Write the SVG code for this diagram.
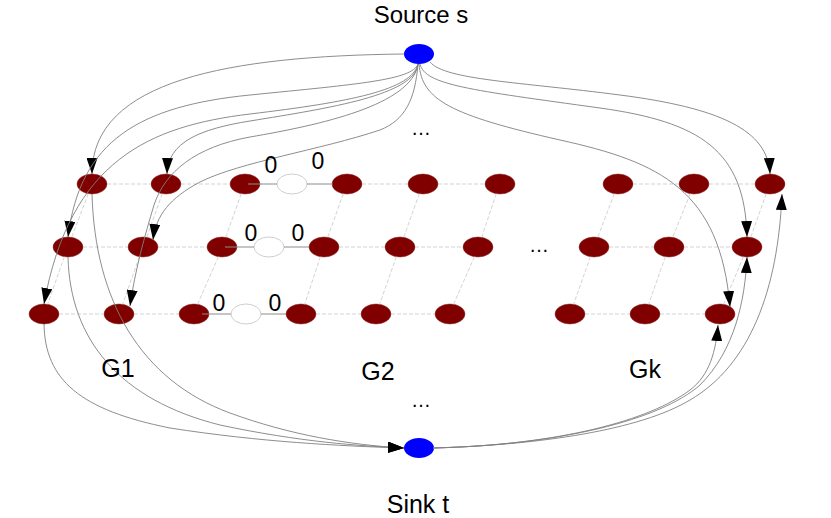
<svg xmlns="http://www.w3.org/2000/svg" width="831" height="518" viewBox="0 0 831 518">
<style>
.t{font-family:"Liberation Sans",Arial,sans-serif;fill:#000}
.lbl{font-size:25px;text-anchor:middle}
.top{font-size:24px;text-anchor:middle}
.z{font-size:23px;text-anchor:middle}
.dots{font-size:20px;text-anchor:middle}
.n{fill:#800000;stroke:#8a2a2a;stroke-width:0.5}
.w{fill:#fff;stroke:#cfcfcf;stroke-width:1}
.st{fill:#0000ff}
.d{stroke:#c8c8c8;stroke-width:0.8;stroke-dasharray:4,2;fill:none}
.s{stroke:#8c8c8c;stroke-width:1;fill:none}
.c{stroke:#808080;stroke-width:0.9;fill:none;marker-end:url(#arr)}
</style>
<defs>
<marker id="arr" markerWidth="16" markerHeight="11" refX="16" refY="5.5" orient="auto" markerUnits="userSpaceOnUse">
<path d="M0,0 L16,5.5 L0,11 z" fill="#000"/>
</marker>
</defs>
<rect width="831" height="518" fill="#fff"/>

<g id="nodes">
<g id="source"><ellipse class="st" cx="419" cy="54" rx="15" ry="10"/></g>
<g id="sink"><ellipse class="st" cx="419" cy="448" rx="15" ry="10"/></g>

<g id="r1c1"><ellipse class="n" cx="92" cy="184" rx="15" ry="10"/></g>
<g id="r1c2"><ellipse class="n" cx="166" cy="184" rx="15" ry="10"/></g>
<g id="r1c3"><ellipse class="n" cx="245" cy="184" rx="15" ry="10"/></g>
<g id="r1w"><ellipse class="w" cx="292" cy="184" rx="15" ry="10"/></g>
<g id="r1c4"><ellipse class="n" cx="347" cy="184" rx="15" ry="10"/></g>
<g id="r1c5"><ellipse class="n" cx="423" cy="184" rx="15" ry="10"/></g>
<g id="r1c6"><ellipse class="n" cx="500" cy="184" rx="15" ry="10"/></g>
<g id="r1c7"><ellipse class="n" cx="618" cy="184" rx="15" ry="10"/></g>
<g id="r1c8"><ellipse class="n" cx="694" cy="184" rx="15" ry="10"/></g>
<g id="r1c9"><ellipse class="n" cx="770" cy="184" rx="15" ry="10"/></g>

<g id="r2c1"><ellipse class="n" cx="68" cy="247" rx="15" ry="10"/></g>
<g id="r2c2"><ellipse class="n" cx="143" cy="247" rx="15" ry="10"/></g>
<g id="r2c3"><ellipse class="n" cx="222" cy="247" rx="15" ry="10"/></g>
<g id="r2w"><ellipse class="w" cx="269" cy="247" rx="15" ry="10"/></g>
<g id="r2c4"><ellipse class="n" cx="324" cy="247" rx="15" ry="10"/></g>
<g id="r2c5"><ellipse class="n" cx="400" cy="247" rx="15" ry="10"/></g>
<g id="r2c6"><ellipse class="n" cx="478" cy="247" rx="15" ry="10"/></g>
<g id="r2c7"><ellipse class="n" cx="594" cy="247" rx="15" ry="10"/></g>
<g id="r2c8"><ellipse class="n" cx="669" cy="247" rx="15" ry="10"/></g>
<g id="r2c9"><ellipse class="n" cx="747" cy="247" rx="15" ry="10"/></g>

<g id="r3c1"><ellipse class="n" cx="44" cy="314" rx="15" ry="10"/></g>
<g id="r3c2"><ellipse class="n" cx="119" cy="314" rx="15" ry="10"/></g>
<g id="r3c3"><ellipse class="n" cx="194" cy="314" rx="15" ry="10"/></g>
<g id="r3w"><ellipse class="w" cx="246" cy="314" rx="15" ry="10"/></g>
<g id="r3c4"><ellipse class="n" cx="301" cy="314" rx="15" ry="10"/></g>
<g id="r3c5"><ellipse class="n" cx="376" cy="314" rx="15" ry="10"/></g>
<g id="r3c6"><ellipse class="n" cx="450" cy="314" rx="15" ry="10"/></g>
<g id="r3c7"><ellipse class="n" cx="570" cy="314" rx="15" ry="10"/></g>
<g id="r3c8"><ellipse class="n" cx="645" cy="314" rx="15" ry="10"/></g>
<g id="r3c9"><ellipse class="n" cx="720" cy="314" rx="15" ry="10"/></g>
</g>

<g id="connectors">
<path class="d" d="M107,184H151M181,184H230M362,184H408M438,184H485M633,184H679M709,184H755"/>
<path class="d" d="M83,247H128M158,247H207M339,247H385M415,247H463M609,247H654M684,247H732"/>
<path class="d" d="M59,314H104M134,314H179M316,314H361M391,314H435M585,314H630M660,314H705"/>
<path class="d" d="M88.3,193.7L71.7,237.3M64.4,256.7L47.6,304.3"/>
<path class="d" d="M162.3,193.7L146.7,237.3M139.4,256.7L122.6,304.3"/>
<path class="d" d="M241.3,193.7L225.7,237.3M218.4,256.7L197.6,304.3"/>
<path class="d" d="M343.3,193.7L327.7,237.3M320.4,256.7L304.6,304.3"/>
<path class="d" d="M419.3,193.7L403.7,237.3M396.4,256.7L379.6,304.3"/>
<path class="d" d="M496.3,193.7L481.7,237.3M474.4,256.7L453.6,304.3"/>
<path class="d" d="M614.3,193.7L597.7,237.3M590.4,256.7L573.6,304.3"/>
<path class="d" d="M690.3,193.7L672.7,237.3M665.4,256.7L648.6,304.3"/>
<path class="d" d="M766.3,193.7L750.7,237.3M743.4,256.7L723.6,304.3"/>
<path class="s" d="M248,184H277M307,184H333"/>
<path class="s" d="M225,247H254M284,247H309"/>
<path class="s" d="M202,314H231M261,314H286"/>
<path class="c" d="M404,54C230,56 92,80 92,174"/>
<path class="c" d="M418,64C412,80 360,84 250,95C140,106 80,140 68,237"/>
<path class="c" d="M418,64C412,90 350,102 250,114C150,126 70,160 44,304"/>
<path class="c" d="M418,64C415,95 330,108 250,121C200,129 168,142 167,174"/>
<path class="c" d="M418,64C412,105 320,125 250,137C195,147 165,172 154,205C145,235 135,270 130,306"/>
<path class="c" d="M418,64C415,100 405,120 380,130C320,150 240,162 200,182C170,198 156,215 153,240"/>
<path class="c" d="M430,62C445,80 520,82 620,95C720,108 768,130 770,174"/>
<path class="c" d="M420,64C425,85 470,90 600,108C700,122 745,150 747,237"/>
<path class="c" d="M419,64C422,100 450,115 560,140C660,162 720,190 730,307"/>
<path class="c" d="M92,194C95,300 140,380 230,413C290,435 350,445 404,448"/>
<path class="c" d="M68,257C70,340 120,400 220,425C300,442 360,446 404,448"/>
<path class="c" d="M44,324C45,380 80,410 170,428C260,442 340,446 404,448"/>
<path class="c" d="M433,448C560,445 650,420 690,390C710,375 716,350 718,325"/>
<path class="c" d="M433,448C560,445 660,420 700,385C735,350 745,300 747,257"/>
<path class="c" d="M433,448C540,445 640,430 690,400C750,365 778,290 782,194"/>
</g>

<g id="labels">
<text class="t top" x="421" y="23">Source s</text>
<text class="t lbl" x="418" y="513">Sink t</text>
<text class="t lbl" x="118" y="377">G1</text>
<text class="t lbl" x="378" y="380">G2</text>
<text class="t lbl" x="645" y="378">Gk</text>
<text class="t z" x="271" y="173">0</text>
<text class="t z" x="318" y="169">0</text>
<text class="t z" x="251" y="241">0</text>
<text class="t z" x="298" y="241">0</text>
<text class="t z" x="219" y="311">0</text>
<text class="t z" x="275" y="311">0</text>
<text class="t dots" x="421" y="135">…</text>
<text class="t dots" x="539" y="252">…</text>
<text class="t dots" x="421" y="407">…</text>
</g>
</svg>
